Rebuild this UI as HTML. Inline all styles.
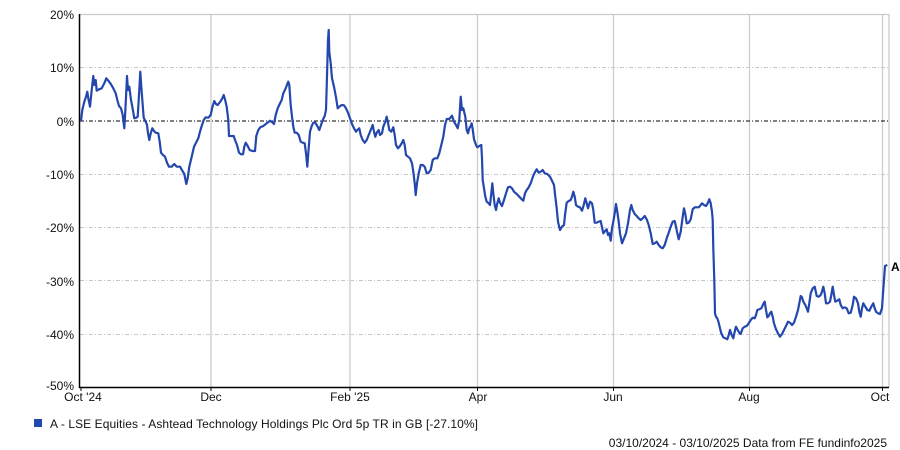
<!DOCTYPE html>
<html><head><meta charset="utf-8"><style>
html,body{margin:0;padding:0;background:#fff;}
svg{display:block;font-family:"Liberation Sans",Arial,sans-serif;}
</style></head><body>
<svg width="900" height="450" viewBox="0 0 900 450" xmlns="http://www.w3.org/2000/svg">
<rect width="900" height="450" fill="#fff"/>
<!-- vertical grid -->
<g stroke="#cccccc" stroke-width="1.3">
<line x1="211" y1="14" x2="211" y2="387"/>
<line x1="350" y1="14" x2="350" y2="387"/>
<line x1="477.5" y1="14" x2="477.5" y2="387"/>
<line x1="613.5" y1="14" x2="613.5" y2="387"/>
<line x1="749.5" y1="14" x2="749.5" y2="387"/>
<line x1="882.5" y1="14" x2="882.5" y2="387"/>
<line x1="889" y1="14" x2="889" y2="387"/>
<line x1="80" y1="14.5" x2="889" y2="14.5"/>
</g>
<!-- horizontal grid dash-dot -->
<g stroke="#c8c8c8" stroke-width="1" stroke-dasharray="4,2,1,2">
<line x1="80" y1="67.5" x2="889" y2="67.5"/>
<line x1="80" y1="174.5" x2="889" y2="174.5"/>
<line x1="80" y1="227.5" x2="889" y2="227.5"/>
<line x1="80" y1="280.5" x2="889" y2="280.5"/>
<line x1="80" y1="334.5" x2="889" y2="334.5"/>
</g>
<line x1="80" y1="121" x2="889" y2="121" stroke="#000" stroke-width="1" stroke-dasharray="4,2,1,2"/>
<!-- axes -->
<line x1="79.5" y1="14" x2="79.5" y2="388" stroke="#000" stroke-width="1.5"/>
<line x1="79" y1="387.5" x2="889" y2="387.5" stroke="#000" stroke-width="1.5"/>
<g stroke="#000" stroke-width="1">
<line x1="81" y1="387" x2="81" y2="391"/>
<line x1="211" y1="387" x2="211" y2="391"/>
<line x1="350" y1="387" x2="350" y2="391"/>
<line x1="477.5" y1="387" x2="477.5" y2="391"/>
<line x1="613.5" y1="387" x2="613.5" y2="391"/>
<line x1="749.5" y1="387" x2="749.5" y2="391"/>
<line x1="882.5" y1="387" x2="882.5" y2="391"/>
</g>
<!-- y labels -->
<g font-size="12" fill="#111" text-anchor="end">
<text x="74" y="19">20%</text>
<text x="74" y="72">10%</text>
<text x="74" y="126">0%</text>
<text x="74" y="179">-10%</text>
<text x="74" y="232">-20%</text>
<text x="74" y="286">-30%</text>
<text x="74" y="339">-40%</text>
<text x="74" y="390">-50%</text>
</g>
<!-- x labels -->
<g font-size="12" fill="#111" text-anchor="middle">
<text x="83" y="401">Oct '24</text>
<text x="211" y="401">Dec</text>
<text x="350" y="401">Feb '25</text>
<text x="478" y="401">Apr</text>
<text x="613" y="401">Jun</text>
<text x="749" y="401">Aug</text>
<text x="880" y="401">Oct</text>
</g>
<!-- series -->
<polyline fill="none" stroke="#2447ad" stroke-width="2.2" stroke-linejoin="round" points="
81,121 82.3,110 84.3,101.7 86,96.7 87.3,91.7 88.3,98.3 90,106.7 91.7,90 93.3,76 94.3,85 95.7,80 96.7,90.7 99,89.3 101.7,88.3 104.3,83.3 106.3,78.3 108.3,80.7 111,84.3 113.3,88.3 115.7,93.3 117.3,100 119,106 121,108.3 122.7,115 124.3,128.3 125,116.7 126,97.3 127,76 128,90 129.3,86.7 131,100 132.3,106.7 134.3,118.3 136.3,117.7 137.7,116.7 139,95 140.3,71.7 141.3,86.7 142.7,105 143.7,117.7 145.7,121.7 147,125 148,133.3 149.3,140 150.7,133.3 152.3,128.3 154,131 155.7,132.7 158.3,133.3 159.7,141.7 161,152.7 163,155 165,156.7 167,162.7 169,166.7 171.7,166.7 174.3,164 176.7,166.7 180,166.7 182.3,170.7 184.3,174 186.3,184 187.7,178.3 189.3,166.7 191.7,156.7 194,146.7 196,142.7 198.3,138.3 200,131.7 201.7,126 203.7,120 205.7,117.3 208.3,117.7 210.7,115 212.3,107.3 214.3,101 216,104 217.7,105 220.3,101.7 222.3,98.3 223.7,95 225,99.3 226.7,106.7 228.3,120 229,136 231.7,136 233.7,136 235,140 237,145 239,152.7 241,154.3 243,154.3 244.3,146.7 245.7,142.7 247.7,146 249.7,150 252.3,151 255,151 256.3,136 258.3,130 260.3,127.3 263.3,126 266.7,123.3 270,120.7 272.3,122.3 274,124 275.7,115 277.7,108.3 279.7,104 281.7,100 283.3,93.3 285.7,88.3 287.3,84 288.3,81.7 289.3,85 290.7,105 292,116.7 293.3,126.7 294.7,132.7 296.7,132.7 298.7,135 300.7,141.7 302.7,142.7 304.7,143.3 306,153.3 307.3,166.7 308.3,153.3 310,131.7 311.7,126 313.3,122.7 315.3,122.7 317.3,126 319.3,130 320.7,126 322.7,120 324.7,116 326,110 326.7,86.7 328,40 328.7,30 329.3,51.7 330.7,63.3 332,78.3 334,86.7 336,97.3 337.7,108.3 339.3,106.7 341.7,105 344,105.3 346,108.3 348,112.7 350,118.3 352,124 354,128.3 356,131.7 357.3,130 359.3,128.3 360.7,135 362.7,140 364.7,142.7 366.7,140 368.7,135 370.7,130 372.7,125 374,131.7 375.3,136.7 376.7,132.7 378.7,130 380,135 382,133.3 383.3,126.7 385.3,121.7 386.7,116.7 388,122.7 389.3,130 391.3,131.7 393.3,127.3 394.7,135 396,145 398,148.3 400,146 402,142.7 403.3,140 404.7,145 406,155 408,156.7 410,158.3 412,163.3 413.3,171.7 414.7,183.3 415.7,195 417,183.3 418.7,173.3 420.7,165 422.7,165 424.7,166.7 426.7,173.3 428.7,172.7 430.7,170 432.7,160 434.7,158.3 437.3,158.3 439.3,153.3 441.3,145 443.3,136.7 445,125 446.7,119 449.3,119 452,115.7 454,121.7 456,125 457.7,128.3 459.3,120 460.7,96.7 462,110 463.3,108.3 465.3,116.7 466.7,130 468,133.3 469.3,128.3 470.7,126 471.7,123.3 472.7,129.3 474,139.3 476,145 477.3,147.3 479.3,146 481.3,145 482,158.3 482.7,180 484,188.3 485.3,196.7 486.7,201.7 488.7,203.3 490,205 491.3,193.3 492.3,183.3 493.3,193.3 494.7,205 496,210 497.3,203.3 498.7,198.3 500,202.7 502,206 504,200 506,193.3 508,187.3 510,186.7 512,188.3 514,191.7 516.7,194 519.3,196.7 521.7,199.3 523.3,200.7 525,193.3 526.7,190 528.7,187.3 530.7,183.3 532.7,177.3 534.7,172.7 536.7,169.3 538.7,172.7 540.7,171.7 542.7,170 544.7,173.3 547.3,174 550,176.7 552,180.7 554,185 555.3,196.7 556.7,208.3 558,221.7 560,230 562,226.7 564,225 565,215 566.7,202.7 568.7,201 570.7,200 572,196.7 573.3,191.7 574.7,196.7 576,205 578,206.7 580,207.3 582,210.7 583.3,206.7 585.3,198.3 586.7,203.3 588,208.3 590,201.7 592,203.3 593.3,210 594.7,222.7 596.7,222.7 598.7,221.7 600.7,221 602,227.3 603.3,233.3 605.3,230.7 606.7,229.3 608,235 609.3,233.3 610.7,240.7 612,228.3 613.3,221.7 614.7,213.3 616,204 617.3,211.7 618.7,221.7 620,233.3 622,243.3 624,238.3 626,233.3 628,223.3 630,210 631.3,205 632.7,210 634.7,214 636.7,216 638.7,218.3 640.7,220 642.7,218.3 644.7,216 646.7,219.3 648.7,225 650.7,233.3 652.7,244 654.7,243.3 656.7,241.7 658.7,245 660.7,247.3 662.7,248.3 664.7,245 666.7,238.3 668.7,232.7 670.7,226.7 672.7,221.7 674.7,221 676,226.7 677.3,233.3 678.7,239.3 680.7,231.7 682.7,216.7 684,208.3 685.3,214 686.7,223.3 688.7,222.7 690.7,219.3 692.7,209.3 694.7,207.3 696.7,207.3 698.7,207.3 700,206 702,203.3 704,205 706,206 708,202.7 709.3,199.3 710.7,203.3 712,211.7 712.7,220 713.3,248.3 714.3,280 715,313.3 716,316.7 717.3,318.3 718.7,322.7 720,328.3 721.3,333.3 723.3,337.3 725.3,338.3 727.3,339.3 728.7,335 730,330 731.7,335 733.3,338.3 734.7,331.7 736,326.7 737.3,329.3 739.3,332.7 740.7,334 742.7,328.3 744.7,326.7 746.7,326 748.7,323.3 750.7,320 752.7,317.7 754.7,318.3 756,315 757.3,310 759.3,309.3 761.3,308.3 763.3,304 764.7,301.7 765.7,308.3 767.3,317.3 768.7,316 770,313.3 771.3,311.7 772.7,316.7 774,323.3 776,329.3 778,333.3 780,336.7 782,334 784,330 786,326 788,321.7 790,322.7 792,325 794,322.7 796,316.7 798,310 799.3,303.3 800.7,296 802,297.3 803.3,301.7 805.3,305 806.7,308.3 808,311.7 809.3,303.3 810.7,293.3 812.7,288.3 814.7,286.7 816.7,296 818.7,296.7 820.7,295 822,291.7 823.3,286.7 824.7,293.3 826,303.3 828,303.3 830,301.7 831.3,295 832.7,286.7 834,295 835.3,301.7 837.3,300.7 839.3,299.3 840.7,305 842.7,308.3 844.7,307.3 846.7,308.3 848.7,313.3 850.7,312.7 852.7,305 854,296.7 856,298.3 858,303.3 859.3,311.7 860.7,316.7 862,308.3 863.3,303.3 865.3,306.7 867.3,310 869.3,310.7 871.3,306.7 873.3,303.3 874.7,308.3 876,311.7 878,313.3 880,314 882,308.3 883,293.3 884,280 885,266 887.3,265"/>
<text x="891" y="271" font-size="12" font-weight="bold" fill="#000">A</text>
<!-- legend -->
<rect x="34" y="419" width="8" height="8" fill="#2247b0"/>
<text x="50" y="428" font-size="12" fill="#111" textLength="428" lengthAdjust="spacing">A - LSE Equities - Ashtead Technology Holdings Plc Ord 5p TR in GB [-27.10%]</text>
<text x="887" y="447" font-size="12" fill="#111" text-anchor="end">03/10/2024 - 03/10/2025 Data from FE fundinfo2025</text>
</svg>
</body></html>
